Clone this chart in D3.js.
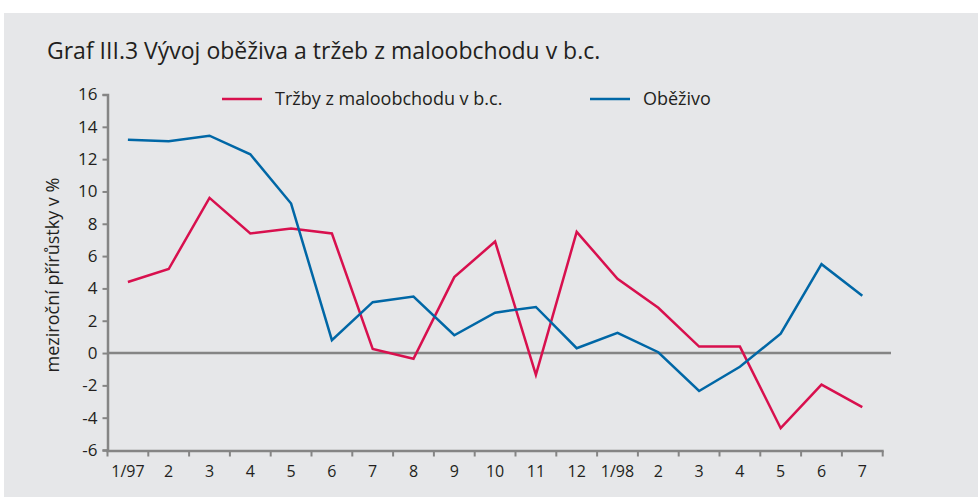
<!DOCTYPE html>
<html>
<head>
<meta charset="utf-8">
<script src="https://cdn.jsdelivr.net/npm/d3@7"></script>
<style>
  body { margin: 0; background: #fff; }
  text { font-family: "Open Sans", "Lato", sans-serif; fill: #231f20; }
</style>
</head>
<body>
<svg id="chart" width="978" height="497"></svg>
<script>
// data
const months = ["1/97", "2", "3", "4", "5", "6", "7", "8", "9", "10", "11", "12",
  "1/98", "2", "3", "4", "5", "6", "7"];
const trzby = [4.4, 5.2, 9.6, 7.4, 7.7, 7.4, 0.25, -0.35, 4.7, 6.9, -1.35, 7.5,
  4.6, 2.8, 0.4, 0.4, -4.65, -1.95, -3.35];
const obezivo = [13.2, 13.1, 13.45, 12.3, 9.25, 0.8, 3.15, 3.5, 1.1, 2.5, 2.85, 0.3,
  1.25, 0.05, -2.35, -0.85, 1.2, 5.5, 3.55];
const yTicks = [-6, -4, -2, 0, 2, 4, 6, 8, 10, 12, 14, 16];

const red = "#d8104e";
const blue = "#0067a6";
const grey = "#858585";

const svg = d3.select("#chart");

// šedý panel
svg.append("rect")
  .attr("x", 4).attr("y", 13)
  .attr("width", 974).attr("height", 484)
  .attr("fill", "#e6e7e9");

svg.append("text")
  .attr("x", 47).attr("y", 59)
  .attr("font-size", 23)
  .text("Graf III.3 Vývoj oběživa a tržeb z maloobchodu v b.c.");

const idx = months.map((d, i) => i);
const x = d3.scaleBand().domain(idx).range([107.5, 882.7]);
const y = d3.scaleLinear().domain([-6, 16]).range([450, 94.5]);
const cx = (i) => x(i) + x.bandwidth() / 2;

// osa y
const yAxis = svg.append("g")
  .attr("transform", "translate(107.5,0)")
  .call(d3.axisLeft(y).tickValues(yTicks).tickSize(5).tickPadding(5));
yAxis.select(".domain").attr("stroke", grey).attr("stroke-width", 2.5);
yAxis.selectAll(".tick line").attr("stroke", grey).attr("stroke-width", 2);
yAxis.selectAll(".tick text")
  .attr("font-size", 17)
  .attr("font-family", "Lato, sans-serif")
  .attr("fill", "#231f20")
  .text((d) => d);

// osa x
const xAxis = svg.append("g")
  .attr("transform", "translate(0,451)")
  .call(d3.axisBottom(x).tickSize(0).tickFormat((i) => months[i]));
xAxis.select(".domain").remove();
xAxis.selectAll(".tick text")
  .attr("font-size", 16)
  .attr("font-family", "Lato, sans-serif")
  .attr("fill", "#231f20")
  .attr("dy", "1.45em");

// hranice pásem jako tiky
svg.append("g")
  .selectAll("line")
  .data(d3.range(months.length + 1))
  .join("line")
  .attr("x1", (i) => 107.5 + i * x.step())
  .attr("x2", (i) => 107.5 + i * x.step())
  .attr("y1", 451).attr("y2", 456.5)
  .attr("stroke", grey).attr("stroke-width", 2);
svg.append("line")
  .attr("x1", 106.3).attr("x2", 883.7)
  .attr("y1", 451).attr("y2", 451)
  .attr("stroke", grey).attr("stroke-width", 2.5);

// nulová čára
svg.append("line")
  .attr("x1", 107.5).attr("x2", 891)
  .attr("y1", y(0)).attr("y2", y(0))
  .attr("stroke", grey).attr("stroke-width", 2.5);

// titulek osy y
svg.append("text")
  .attr("transform", "translate(59,275) rotate(-90)")
  .attr("text-anchor", "middle")
  .attr("font-size", 18)
  .text("meziroční přírůstky v %");

const line = d3.line().x((d, i) => cx(i)).y((d) => y(d));

svg.append("path")
  .datum(trzby)
  .attr("d", line)
  .attr("fill", "none")
  .attr("stroke", red)
  .attr("stroke-width", 2.5);

svg.append("path")
  .datum(obezivo)
  .attr("d", line)
  .attr("fill", "none")
  .attr("stroke", blue)
  .attr("stroke-width", 2.5);

// legenda
const legend = [
  { name: "Tržby z maloobchodu v b.c.", color: red, x: 222 },
  { name: "Oběživo", color: blue, x: 590 },
];
const lg = svg.append("g").selectAll("g").data(legend).join("g")
  .attr("transform", (d) => `translate(${d.x},99)`);
lg.append("line")
  .attr("x1", 0).attr("x2", 40)
  .attr("stroke", (d) => d.color).attr("stroke-width", 2.5);
lg.append("text")
  .attr("x", 53).attr("dy", "0.35em")
  .attr("font-size", 18)
  .text((d) => d.name);
</script>
</body>
</html>
